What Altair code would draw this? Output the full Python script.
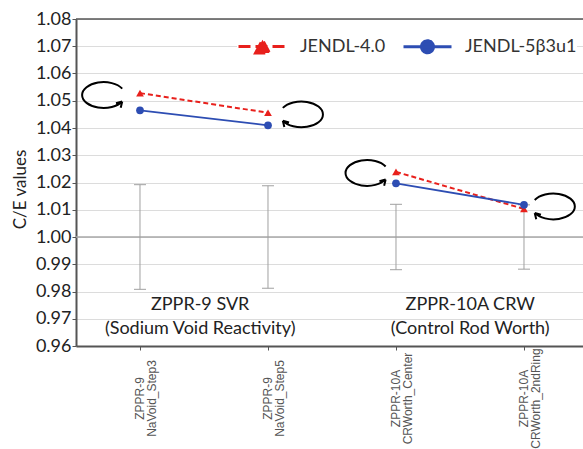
import altair as alt
import pandas as pd

# ---------------- data ----------------
categories = ["ZPPR-9|NaVoid_Step3", "ZPPR-9|NaVoid_Step5",
              "ZPPR-10A|CRWorth_Center", "ZPPR-10A|CRWorth_2ndRing"]
category_group = ["SVR", "SVR", "CRW", "CRW"]
series_names = ["JENDL-4.0", "JENDL-5β3u1"]
jendl40_values = [1.0528, 1.0456, 1.0239, 1.0103]
jendl5_values = [1.0465, 1.0410, 1.0197, 1.0118]
uncert_low = [0.9808, 0.9812, 0.9880, 0.9882]
uncert_high = [1.0192, 1.0188, 1.0120, 1.0118]
y_ticks = [0.96, 0.97, 0.98, 0.99, 1.00, 1.01, 1.02, 1.03, 1.04, 1.05, 1.06, 1.07, 1.08]
reference_value = 1.00
group_lines = ["ZPPR-9 SVR", "(Sodium Void Reactivity)",
               "ZPPR-10A CRW", "(Control Rod Worth)"]
group_line_pos = [0.47, 0.47, 2.58, 2.58]
group_line_level = [0.9750, 0.9662, 0.9750, 0.9662]
arrow_pos = [-0.285, 1.262, 1.773, 3.230]
arrow_level = [1.0521, 1.0450, 1.0235, 1.0112]
arrow_opening = ["right", "left", "right", "left"]

RED = "#e8201c"
BLUE = "#2d4db3"
FONT = "Lato"

# ---------------- tables ----------------
idx = list(range(len(categories)))
df_series = pd.DataFrame({
    "idx": idx * 2,
    "group": category_group * 2,
    "series": [series_names[0]] * 4 + [series_names[1]] * 4,
    "value": jendl40_values + jendl5_values,
})
df_err = pd.DataFrame({"idx": idx, "value": uncert_low, "value2": uncert_high})
df_err_lo = pd.DataFrame({"idx": idx, "value": uncert_low})
df_err_hi = pd.DataFrame({"idx": idx, "value": uncert_high})
df_ref = pd.DataFrame({"value": [reference_value]})
df_top = pd.DataFrame({"value": [y_ticks[-1]]})
df_groups = pd.DataFrame({"idx": group_line_pos, "value": group_line_level, "label": group_lines})
df_arrows = pd.DataFrame({"idx": arrow_pos, "value": arrow_level, "opening": arrow_opening})

label_array = "[" + ",".join(f"'{c}'" for c in categories) + "]"

x_axis = alt.Axis(
    values=idx, labelExpr=f"split({label_array}[datum.value], '|')",
    labelAngle=270, labelAlign="center", labelBaseline="middle",
    labelPadding=48, labelFont="Liberation Sans", labelFontSize=12, labelLineHeight=12,
    labelColor="#555", tickSize=4, tickColor="#555", domainColor="#555",
    domainWidth=2, grid=False, title=None,
)
y_axis = alt.Axis(
    values=y_ticks, format=".2f", labelFont=FONT, labelFontSize=18,
    labelColor="#222", labelPadding=1, tickSize=4, tickColor="#555",
    domainColor="#555", domainWidth=2, grid=True, gridColor="#dcdcdc",
    title="C/E values", titleFont=FONT, titleFontSize=17,
    titleFontWeight="normal", titleColor="#222", titlePadding=6, titleY=170,
)
x_enc = alt.X("idx:Q", scale=alt.Scale(domain=[-0.5, 3.461], nice=False, zero=False), axis=x_axis)
y_enc = alt.Y("value:Q", scale=alt.Scale(domain=[y_ticks[0], y_ticks[-1]], nice=False, zero=False), axis=y_axis)

base = alt.Chart(df_series).encode(x=x_enc, y=y_enc)

grid_ref = alt.Chart(df_ref).mark_rule(color="#a8a8a8", strokeWidth=1.5).encode(y=y_enc)
top_border = alt.Chart(df_top).mark_rule(color="#555", strokeWidth=1.5).encode(y=y_enc)

err_rule = alt.Chart(df_err).mark_rule(color="#a0a0a0", strokeWidth=1).encode(
    x=x_enc, y=y_enc, y2="value2:Q")
err_lo = alt.Chart(df_err_lo).mark_tick(color="#a0a0a0", thickness=1, size=12,
                                        orient="horizontal", opacity=1).encode(x=x_enc, y=y_enc)
err_hi = alt.Chart(df_err_hi).mark_tick(color="#a0a0a0", thickness=1, size=12,
                                        orient="horizontal", opacity=1).encode(x=x_enc, y=y_enc)

line40 = base.transform_filter(alt.datum.series == series_names[0]).mark_line(
    color=RED, strokeDash=[5, 3], strokeWidth=2).encode(detail="group:N")
line5 = base.transform_filter(alt.datum.series == series_names[1]).mark_line(
    color=BLUE, strokeWidth=1.8).encode(detail="group:N")
pts40 = base.transform_filter(alt.datum.series == series_names[0]).mark_point(
    shape="triangle-up", filled=True, size=60, color=RED, opacity=1)
pts5 = base.transform_filter(alt.datum.series == series_names[1]).mark_point(
    shape="circle", filled=True, size=60, color=BLUE, opacity=1)

ARROW_RIGHT = ("M 0.87 -0.3 A 1 0.6 0 1 0 0.87 0.3 "
               "M 0.87 0.3 L 0.80 0.59 M 0.87 0.3 L 0.58 0.38")
ARROW_LEFT = ("M -0.87 -0.3 A 1 0.6 0 1 1 -0.87 0.3 "
              "M -0.87 0.3 L -0.80 0.59 M -0.87 0.3 L -0.58 0.38")
arrows_r = alt.Chart(df_arrows).transform_filter(alt.datum.opening == "right").mark_point(
    shape=ARROW_RIGHT, size=1849, filled=False, color="black", strokeWidth=2, opacity=1
).encode(x=x_enc, y=y_enc)
arrows_l = alt.Chart(df_arrows).transform_filter(alt.datum.opening == "left").mark_point(
    shape=ARROW_LEFT, size=1849, filled=False, color="black", strokeWidth=2, opacity=1
).encode(x=x_enc, y=y_enc)

group_text = alt.Chart(df_groups).mark_text(
    font=FONT, fontSize=18, color="#222", baseline="middle", align="center"
).encode(x=x_enc, y=y_enc, text="label:N")

# legend layer: no marks drawn, only the legend from explicit scale domains
LEG_RED = "M -1 0 L 1 0 M -0.29 0.27 L 0 -0.28 L 0.29 0.27 Z"
LEG_BLUE = ("M -1 0 L 1 0 M 0.25 0 A 0.25 0.25 0 1 1 -0.25 0 "
            "A 0.25 0.25 0 1 1 0.25 0 Z")
leg = alt.Legend(orient="none", legendX=161, legendY=2, direction="horizontal",
                 title=None, labelFont=FONT, labelFontSize=18, labelColor="#333",
                 symbolSize=2304, symbolStrokeWidth=3, labelOffset=12,
                 columnPadding=11, padding=0, fillColor="white", symbolOpacity=1)
legend_layer = base.transform_filter(alt.datum.value < 0).mark_point(
    filled=True, size=2304, strokeWidth=3, opacity=1
).encode(
    fill=alt.Fill("series:N", scale=alt.Scale(domain=series_names, range=[RED, BLUE]), legend=leg),
    stroke=alt.Stroke("series:N", scale=alt.Scale(domain=series_names, range=[RED, BLUE]), legend=leg),
    shape=alt.Shape("series:N", scale=alt.Scale(domain=series_names, range=[LEG_RED, LEG_BLUE]), legend=leg),
    strokeDash=alt.StrokeDash("series:N", scale=alt.Scale(domain=series_names, range=[[12, 5], [1, 0]]), legend=leg),
)

chart = alt.layer(
    grid_ref, top_border, err_rule, err_lo, err_hi,
    line40, line5, pts40, pts5, arrows_r, arrows_l, group_text, legend_layer,
).properties(
    width=507, height=327,
    autosize=alt.AutoSizeParams(type="none"),
    padding={"left": 76, "top": 19, "right": 0, "bottom": 103},
    background="white",
).configure_view(stroke=None)

chart.save("out.html", embed_options={"renderer": "svg", "actions": False})
